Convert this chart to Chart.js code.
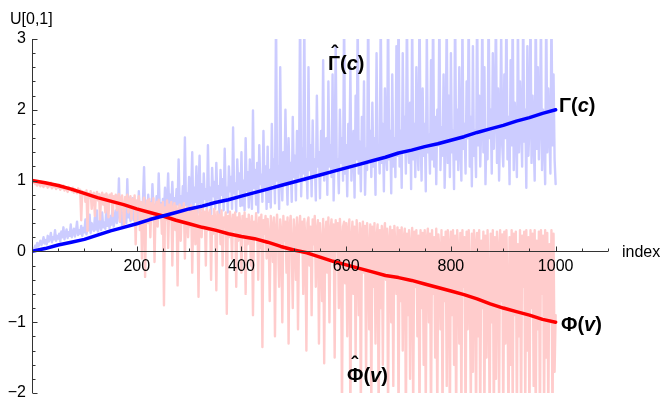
<!DOCTYPE html>
<html>
<head>
<meta charset="utf-8">
<title>Gamma / Phi estimates</title>
<script src="https://cdn.jsdelivr.net/npm/chart.js@4/dist/chart.umd.min.js"></script>
<style>
  html, body { margin: 0; padding: 0; background: #fff; }
  canvas { display: block; }
</style>
</head>
<body>
<canvas id="uChart" width="664" height="399"></canvas>
<script>
// smooth curves, one value every 25 indices (0..1000)
var smoothStep = 25;
var gammaLine = [0, 0.04, 0.09, 0.13, 0.17, 0.23, 0.29, 0.34, 0.39, 0.45, 0.5, 0.55, 0.6, 0.64, 0.69, 0.73, 0.78, 0.83, 0.88, 0.93,
  0.98, 1.03, 1.08, 1.13, 1.18, 1.23, 1.28, 1.33, 1.39, 1.43, 1.48, 1.52, 1.57, 1.62, 1.68, 1.73, 1.78, 1.84, 1.89, 1.95, 2.0];
var phiLine = [1.0, 0.97, 0.93, 0.88, 0.82, 0.76, 0.71, 0.66, 0.6, 0.55, 0.5, 0.44, 0.39, 0.34, 0.3, 0.25, 0.21, 0.18, 0.13, 0.07,
  0.02, -0.02, -0.08, -0.14, -0.19, -0.24, -0.29, -0.34, -0.37, -0.41, -0.46, -0.51, -0.56, -0.61, -0.67, -0.74, -0.8, -0.85, -0.9, -0.96, -1.0];

// noisy estimates, one value every 2 indices (0..1000), one row = 50 indices
var noisyStep = 2;
var gammaHat = [
  0.0, 0.04, 0.02, 0.08, 0.05, 0.12, 0.07, 0.1, 0.15, 0.09, 0.13, 0.2, 0.11, 0.16, 0.1, 0.22, 0.14, 0.18, 0.26, 0.13, 0.2, 0.17, 0.3, 0.15, 0.22,
  0.18, 0.25, 0.14, 0.28, 0.2, 0.34, 0.17, 0.24, 0.31, 0.19, 0.27, 0.22, 0.38, 0.2, 0.26, 0.32, 0.21, 0.29, 0.42, 0.23, 0.3, 0.25, 0.36, 0.22, 0.33,
  0.27, 0.45, 0.24, 0.35, 0.3, 0.52, 0.26, 0.4, 0.33, 0.29, 0.48, 0.31, 0.58, 0.28, 0.37, 0.44, 0.3, 0.55, 0.34, 0.41, 0.32, 0.62, 0.36, 0.46, 0.33,
  0.5, 0.38, 0.7, 0.35, 0.46, 0.58, 0.4, 0.52, 1.03, 0.42, 0.6, 0.37, 0.55, 0.45, 0.68, 0.4, 1.02, 0.48, 0.62, 0.43, 0.5, 0.75, 0.44, 0.58, 0.47,
  0.66, 0.45, 0.85, 0.5, 0.6, 0.48, 0.72, 1.19, 0.52, 0.64, 0.46, 0.8, 0.55, 0.7, 0.5, 0.95, 0.58, 0.66, 0.49, 0.78, 0.54, 1.1, 0.6, 0.68, 0.53,
  0.74, 0.55, 0.9, 0.6, 0.7, 1.1, 0.58, 0.8, 0.64, 0.98, 0.6, 0.75, 0.56, 0.88, 0.66, 1.3, 0.62, 0.78, 0.58, 0.92, 0.7, 1.61, 0.65, 0.82, 0.6,
  1.05, 0.56, 0.85, 1.4, 0.52, 0.9, 0.7, 1.2, 0.54, 0.8, 1.35, 0.6, 0.95, 0.5, 1.1, 0.74, 0.88, 0.56, 1.5, 0.72, 0.9, 0.53, 1.18, 0.78, 0.98,
  0.6, 1.25, 0.75, 0.92, 0.52, 1.15, 0.8, 1.02, 0.58, 1.45, 0.76, 0.9, 0.55, 1.2, 0.85, 1.05, 0.6, 1.75, 0.82, 0.96, 0.56, 1.3, 0.88, 1.1, 0.64,
  1.4, 0.65, 1.0, 0.58, 1.6, 0.86, 1.12, 0.62, 1.3, 0.92, 0.6, 1.99, 0.9, 1.15, 0.66, 1.25, 0.55, 1.5, 0.95, 1.08, 0.7, 1.7, 0.88, 1.2, 0.6,
  1.48, 0.7, 1.15, 0.62, 1.8, 0.95, 1.3, 0.68, 3.4, 1.0, 1.2, 0.6, 2.6, 1.05, 0.72, 1.4, 0.95, 2.0, 1.1, 0.66, 1.6, 1.0, 1.25, 0.7, 1.9,
  1.05, 1.35, 0.72, 1.7, 1.0, 1.2, 3.5, 0.78, 1.45, 1.1, 3.3, 1.0, 1.3, 0.75, 2.6, 1.15, 1.5, 0.78, 1.85, 1.05, 1.3, 0.72, 2.2, 1.2, 1.4,
  0.75, 1.7, 1.1, 2.7, 1.0, 1.35, 1.6, 0.8, 2.4, 1.2, 1.5, 1.05, 2.5, 0.72, 1.4, 2.9, 1.15, 1.3, 0.82, 2.0, 1.25, 1.6, 1.0, 3.4, 1.1,
  1.5, 0.78, 1.8, 1.2, 2.6, 1.0, 1.4, 1.7, 0.76, 2.2, 1.3, 3.3, 1.1, 1.55, 0.85, 1.9, 1.25, 2.4, 0.8, 1.45, 1.15, 3.5, 1.3, 1.7, 1.05,
  2.1, 1.2, 1.6, 0.8, 2.8, 1.3, 1.5, 1.1, 3.4, 1.25, 1.8, 0.85, 2.3, 1.4, 1.15, 3.5, 1.3, 1.7, 0.82, 2.5, 1.2, 1.6, 1.05, 2.9, 1.35,
  3.5, 1.2, 1.7, 0.9, 2.8, 1.4, 1.9, 1.1, 3.4, 1.5, 1.25, 2.1, 0.88, 3.3, 1.3, 1.8, 1.05, 2.6, 1.45, 1.15, 3.5, 1.6, 1.0, 2.3, 1.35,
  1.8, 0.85, 3.1, 1.4, 1.65, 1.1, 2.7, 1.3, 3.5, 1.2, 1.9, 0.95, 2.0, 1.5, 3.4, 1.15, 1.75, 1.35, 2.5, 0.9, 1.6, 3.3, 1.25, 2.2, 1.05,
  2.8, 1.4, 1.7, 0.88, 3.5, 1.3, 2.0, 1.15, 2.6, 1.5, 1.0, 3.2, 1.45, 1.8, 1.1, 2.4, 1.6, 3.4, 1.2, 1.9, 0.92, 2.9, 1.35, 1.7, 1.05,
  3.5, 1.5, 2.2, 1.2, 1.8, 3.3, 1.4, 2.6, 0.95, 1.7, 1.3, 3.5, 1.6, 2.0, 1.1, 2.8, 1.45, 1.9, 3.4, 1.25, 2.3, 1.0, 1.75, 3.1, 1.5,
  1.2, 2.5, 1.6, 3.5, 1.3, 1.9, 0.95, 2.7, 1.5, 3.4, 1.15, 2.1, 1.7, 1.05, 3.3, 1.4, 2.4, 1.8, 1.2, 3.5, 1.55, 2.0, 0.9, 2.9, 1.35,
  1.8, 3.4, 1.25, 2.2, 1.6, 1.0, 3.5, 1.45, 2.6, 1.3, 1.9, 3.3, 1.15, 2.0, 1.6, 0.95, 3.5, 1.4, 2.3, 1.7, 1.1, 3.4, 1.5, 2.5, 1.3,
  0.95
];
var phiHat = [
  1.0, 0.97, 0.99, 0.95, 0.98, 0.93, 0.97, 0.96, 0.92, 0.98, 0.94, 0.91, 0.96, 0.93, 0.95, 0.9, 0.94, 0.92, 0.97, 0.89, 0.93, 0.91, 0.95, 0.88, 0.92,
  0.9, 0.94, 0.87, 0.91, 0.89, 0.93, 0.86, 0.9, 0.88, 0.84, 0.91, 0.87, 0.89, 0.85, 0.9, 0.83, 0.88, 0.86, 0.82, 0.89, 0.84, 0.87, 0.44, 0.85, 0.8,
  0.84, 0.7, 0.86, 0.29, 0.82, 0.76, 0.85, 0.6, 0.8, 0.83, 0.5, 0.79, 0.84, 0.72, 0.81, 0.45, 0.78, 0.83, 0.66, 0.8, 0.55, 0.82, 0.76, 0.48, 0.8,
  0.74, 0.82, 0.5, 0.78, 0.68, 0.8, 0.58, 0.76, 0.81, 0.42, 0.75, 0.79, 0.62, 0.35, 0.77, 0.7, 0.8, 0.55, 0.72, 0.78, 0.45, 0.74, 0.66, 0.79, 0.1,
  0.72, 0.6, 0.78, 0.3, 0.7, -0.1, 0.65, 0.76, -0.36, 0.58, 0.72, 0.4, 0.74, 0.2, 0.68, 0.55, 0.75, -0.15, 0.6, 0.7, 0.35, 0.73, 0.5, 0.66, 0.25,
  0.7, -0.76, 0.62, 0.45, 0.72, 0.05, 0.66, 0.55, 0.7, -0.2, 0.6, 0.68, 0.3, 0.64, -0.48, 0.58, 0.66, 0.15, 0.62, 0.4, 0.68, -0.1, 0.56, 0.63, 0.2,
  0.6, 0.35, 0.65, -0.3, 0.55, 0.62, 0.1, 0.58, 0.45, -0.64, 0.6, 0.5, 0.2, 0.62, 0.38, 0.56, -0.2, 0.6, 0.3, 0.52, 0.58, -0.4, 0.5, 0.25, 0.6,
  0.45, -0.55, 0.56, 0.3, 0.52, 0.1, 0.58, -0.2, 0.48, 0.35, 0.55, -0.88, 0.5, 0.2, 0.56, 0.4, -0.1, 0.52, 0.3, 0.55, -0.5, 0.48, 0.15, 0.54, 0.38,
  -0.3, 0.5, 0.25, 0.55, -0.6, 0.46, 0.1, 0.52, 0.35, -0.2, 0.5, -0.9, 0.42, 0.2, 0.54, 0.3, -0.4, 0.48, 0.05, 0.52, -1.35, 0.44, 0.25, 0.5, -0.1,
  0.46, 0.2, -0.7, 0.5, 0.35, -0.15, 0.48, -1.2, 0.3, 0.52, 0.1, -0.5, 0.45, 0.28, -1.0, 0.5, 0.15, 0.42, -0.3, 0.48, -1.3, 0.36, 0.5, 0.05, -0.8,
  0.45, 0.25, -0.4, 0.48, -1.1, 0.3, 0.5, 0.0, 0.42, -0.6, 0.46, 0.2, -1.4, 0.4, 0.48, -0.2, 0.35, -0.9, 0.45, 0.1, 0.5, -0.5, 0.3, 0.44, -1.3,
  0.4, 0.1, -0.7, 0.46, -1.58, 0.25, 0.42, -0.3, 0.48, -1.0, 0.3, 0.45, -0.15, 0.38, -1.5, 0.44, 0.0, 0.4, -0.8, 0.46, 0.2, -2.3, 0.35, 0.42, -0.45,
  0.4, -1.2, 0.3, 0.45, -2.4, 0.2, 0.42, -0.6, 0.35, -1.5, 0.44, 0.1, -0.9, 0.4, -2.3, 0.28, 0.42, -0.3, 0.36, -1.8, 0.4, 0.05, -1.1, 0.38, -2.2,
  0.35, -0.5, 0.4, -1.3, 0.2, 0.38, -2.4, 0.3, -0.8, 0.36, -1.6, 0.25, 0.4, -0.4, 0.32, -2.3, 0.15, 0.35, -1.0, 0.3, -1.9, 0.36, 0.1, -0.6, 0.34,
  -2.4, 0.3, -0.7, 0.34, -1.4, 0.2, 0.32, -2.5, 0.25, -0.9, 0.3, -1.8, 0.1, 0.33, -2.3, 0.28, -0.5, 0.3, -1.2, 0.22, -2.4, 0.3, -0.8, 0.26, -1.6,
  0.3, -2.2, 0.18, 0.32, -1.0, 0.25, -2.5, 0.3, -0.6, 0.2, -1.5, 0.32, -2.3, 0.24, 0.05, -1.1, 0.3, -2.4, 0.2, -0.7, 0.28, -1.9, 0.3, 0.1, -2.5,
  0.28, -0.9, 0.3, -1.6, 0.22, -2.4, 0.3, 0.0, -1.3, 0.26, -2.3, 0.3, -0.5, 0.2, -2.5, 0.28, -1.1, 0.3, -0.3, -2.2, 0.25, -1.7, 0.3, 0.1, -2.4,
  0.26, -1.2, 0.3, -2.5, 0.15, -0.8, 0.28, -2.3, 0.22, -1.5, 0.3, -0.4, -2.4, 0.25, -1.0, 0.3, -2.5, 0.2, -1.8, 0.28, 0.05, -2.2, 0.3, -0.7, 0.24,
  -2.4, 0.28, -1.3, 0.3, -0.6, -2.5, 0.2, -1.6, 0.3, -2.3, 0.25, -0.9, 0.28, -2.4, 0.1, -1.2, 0.3, -2.5, 0.22, -0.5, 0.28, -2.2, 0.3, -1.4, 0.2,
  -2.5, 0.3, -0.8, 0.25, -1.9, 0.3, -2.4, 0.15, -1.1, 0.28, -2.5, 0.3, -0.6, 0.22, -2.3, 0.3, -1.5, 0.26, -2.4, 0.1, -1.0, 0.3, -2.5, 0.25, -1.7,
  -0.9
];

// axes
var xRange = [0, 1100];
var yRange = [-2, 3];
var xTickLabels = [200, 400, 600, 800, 1000];
var yTickLabels = [-2, -1, 0, 1, 2, 3];

function toPoints(values, step) {
    var pts = [];
    for (var i = 0; i < values.length; i++) {
        pts.push({ x: i * step, y: values[i] });
    }
    return pts;
}

// draw a label made of pieces, some of them italic
function drawPieces(ctx, pieces, x, y) {
    var cx = x;
    for (var i = 0; i < pieces.length; i++) {
        ctx.font = pieces[i][1];
        ctx.fillText(pieces[i][0], cx, y);
        cx += ctx.measureText(pieces[i][0]).width;
    }
}

var BOLD = 'bold 20px "Liberation Sans", Arial, sans-serif';
var BOLD_IT = 'italic bold 20px "Liberation Sans", Arial, sans-serif';

var mmaAxes = {
    id: 'mmaAxes',
    afterDatasetsDraw: function(chart) {
        var ctx = chart.ctx;
        var xs = chart.scales.x, ys = chart.scales.y;
        var y0 = Math.round(ys.getPixelForValue(0)) + 0.5;
        var x0 = Math.round(xs.getPixelForValue(0)) + 0.5;
        ctx.save();
        ctx.strokeStyle = '#333';
        ctx.lineWidth = 1;

        // x axis with ticks pointing up
        ctx.beginPath();
        ctx.moveTo(x0, y0);
        ctx.lineTo(xs.getPixelForValue(xRange[1]), y0);
        for (var v = 50; v <= xRange[1]; v += 50) {
            var px = Math.round(xs.getPixelForValue(v)) + 0.5;
            var len = (v % 200 == 0) ? 5 : 3;
            ctx.moveTo(px, y0);
            ctx.lineTo(px, y0 - len);
        }
        // y axis with ticks pointing right
        ctx.moveTo(x0, ys.getPixelForValue(yRange[0]));
        ctx.lineTo(x0, ys.getPixelForValue(yRange[1]));
        for (var k = 0; k <= 25; k++) {
            var val = yRange[0] + k * 0.2;
            var py = Math.round(ys.getPixelForValue(val)) + 0.5;
            var ln = (k % 5 == 0) ? 5 : 3;
            ctx.moveTo(x0, py);
            ctx.lineTo(x0 + ln, py);
        }
        ctx.stroke();

        // tick labels
        ctx.fillStyle = '#000';
        ctx.font = '16px "Liberation Sans", Arial, sans-serif';
        ctx.textAlign = 'center';
        ctx.textBaseline = 'middle';
        xTickLabels.forEach(function(t) {
            ctx.fillText(String(t), xs.getPixelForValue(t), y0 + 15);
        });
        ctx.textAlign = 'right';
        yTickLabels.forEach(function(t) {
            var s = t < 0 ? '\u2212' + Math.abs(t) : String(t);
            ctx.fillText(s, 26, ys.getPixelForValue(t));
        });

        // axis names
        ctx.textAlign = 'left';
        ctx.textBaseline = 'alphabetic';
        ctx.fillText('U[0,1]', 10, 24);
        ctx.fillText('index', 622, 257);

        // curve labels
        drawPieces(ctx, [['\u0393(', BOLD], ['c', BOLD_IT], [')', BOLD]], 328, 70);
        drawPieces(ctx, [['\u0393(', BOLD], ['c', BOLD_IT], [')', BOLD]], 559, 112);
        drawPieces(ctx, [['\u03A6(', BOLD], ['v', BOLD_IT], [')', BOLD]], 561, 331);
        drawPieces(ctx, [['\u03A6(', BOLD], ['v', BOLD_IT], [')', BOLD]], 347, 382);
        // hats over the estimate labels
        ctx.font = BOLD;
        ctx.textAlign = 'center';
        ctx.fillText('\u02C6', 334.5, 60);
        ctx.fillText('\u02C6', 354.5, 371);
        ctx.restore();
    }
};

var ctx = document.getElementById('uChart').getContext('2d');
var myChart = new Chart(ctx, {
    type: 'line',
    data: {
        datasets: [
            { label: 'Gamma(c)', data: toPoints(gammaLine, smoothStep), borderColor: '#0000ff', borderWidth: 3.5 },
            { label: 'Phi(v)', data: toPoints(phiLine, smoothStep), borderColor: '#ff0000', borderWidth: 3.5 },
            { label: 'Phi hat', data: toPoints(phiHat, noisyStep), borderColor: '#ffcccc', borderWidth: 2.4 },
            { label: 'Gamma hat', data: toPoints(gammaHat, noisyStep), borderColor: '#ccccff', borderWidth: 2.4 }
        ]
    },
    options: {
        responsive: false,
        animation: false,
        parsing: false,
        datasets: {
            line: { pointRadius: 0, tension: 0, fill: false, clip: 0, borderJoinStyle: 'round', borderCapStyle: 'round' }
        },
        layout: { padding: { left: 32, right: 56, top: 39, bottom: 6 } },
        scales: {
            x: { type: 'linear', min: xRange[0], max: xRange[1], display: false },
            y: { type: 'linear', min: yRange[0], max: yRange[1], display: false }
        },
        plugins: {
            legend: { display: false },
            tooltip: { enabled: false }
        }
    },
    plugins: [mmaAxes]
});
</script>
</body>
</html>
